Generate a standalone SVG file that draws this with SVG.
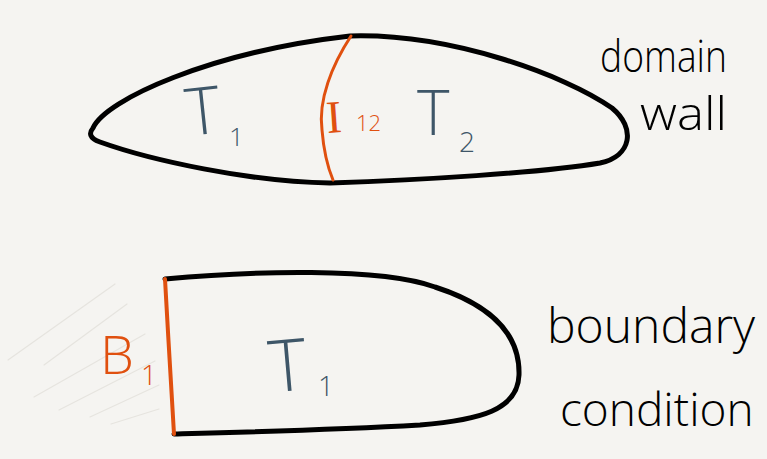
<svg xmlns="http://www.w3.org/2000/svg" width="767" height="459" viewBox="0 0 767 459">
<style>
.outline{fill:none;stroke:#000;stroke-width:5;stroke-linecap:round;stroke-linejoin:round}
.wall{fill:none;stroke:#e0500f;stroke-linecap:round}
.hatch{stroke:#e6e4df;stroke-width:1.2;stroke-linecap:round}
.lab{font-family:"Open Sans","Liberation Sans",sans-serif;font-weight:300}
.serif{font-family:"Liberation Serif",serif;font-weight:normal}
.blue{fill:#3e5668}
.orange{fill:#e0500f}
.hand{font-family:"Open Sans","Liberation Sans",sans-serif;font-weight:300;fill:#000}
</style>
<rect width="767" height="459" fill="#f5f4f1"/>
<g id="domain-region">
<path class="outline" d="M93,128 C105,100 210,52 350,36 C450,33 565,75 612,108 C636,128 632,156 600,163 C540,173 420,180 330,183 C250,182 150,160 100,142 C89,138 89,133 93,128 Z"/>
<path class="wall" stroke-width="3" d="M351,36 C332,65 318,100 322,130 C324,155 328,168 333,180"/>
<text class="lab blue" x="186" y="133" font-size="66" transform="rotate(-6 215 115)">T</text>
<text class="lab blue" x="229" y="146" font-size="26">1</text>
<text class="serif orange" x="326" y="132" font-size="46" transform="rotate(-4 340 115)">I</text>
<text class="lab orange" x="356" y="131" font-size="22">12</text>
<text class="lab blue" x="417" y="135" font-size="62">T</text>
<text class="lab blue" x="459" y="152" font-size="28">2</text>
</g>
<g id="boundary-region">
<g id="hatching">
<line class="hatch" x1="8" y1="360" x2="115" y2="284"/>
<line class="hatch" x1="44" y1="365" x2="127" y2="304"/>
<line class="hatch" x1="34" y1="397" x2="145" y2="334"/>
<line class="hatch" x1="59" y1="410" x2="155" y2="361"/>
<line class="hatch" x1="90" y1="417" x2="159" y2="385"/>
<line class="hatch" x1="111" y1="424" x2="159" y2="409"/>
</g>
<path class="outline" d="M165,279 C250,271 380,267 435,287 C500,308 520,340 519,375 C518,410 480,420 420,425 C330,430 250,432 174,434"/>
<path class="wall" stroke-width="4" d="M165,279 C168,330 171,390 174,434"/>
<text class="lab orange" x="100" y="374" font-size="54">B</text>
<text class="lab orange" x="141" y="385" font-size="28">1</text>
<text class="lab blue" x="268" y="389" font-size="72" transform="rotate(-5 310 355)">T</text>
<text class="lab blue" x="318" y="396" font-size="28">1</text>
</g>
<g id="labels">
<text class="hand" x="600" y="72" font-size="44" textLength="127" lengthAdjust="spacingAndGlyphs">domain</text>
<text class="hand" x="640" y="130" font-size="46" textLength="87" lengthAdjust="spacingAndGlyphs">wall</text>
<text class="hand" x="547" y="343" font-size="48">boundary</text>
<text class="hand" x="560" y="426" font-size="46">condition</text>
</g>
</svg>
